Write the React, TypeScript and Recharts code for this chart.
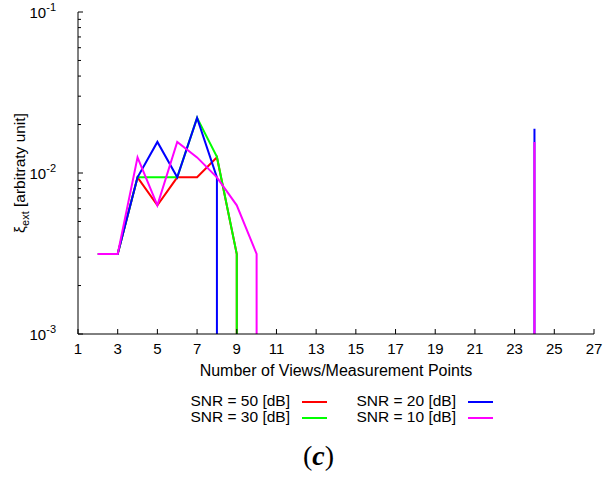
import React from 'react';
import { LineChart, Line, XAxis, YAxis, Legend } from 'recharts';

// ---- data ----
const xTicks = [1, 3, 5, 7, 9, 11, 13, 15, 17, 19, 21, 23, 25, 27];
const yTicks = [
  0.001, 0.002, 0.003, 0.004, 0.005, 0.006, 0.007, 0.008, 0.009,
  0.01, 0.02, 0.03, 0.04, 0.05, 0.06, 0.07, 0.08, 0.09, 0.1,
];

const snr50X = [2, 3, 4, 5, 6, 7, 8, 9, 9];
const snr50Y = [0.00314, 0.00314, 0.0094, 0.0063, 0.0094, 0.0094, 0.0125, 0.00314, 0.001];

const snr30X = [2, 3, 4, 5, 6, 7, 8, 9, 9];
const snr30Y = [0.00314, 0.00314, 0.0094, 0.0094, 0.0094, 0.022, 0.0126, 0.00314, 0.001];

const snr20X = [2, 3, 4, 5, 6, 7, 8, 8, 16, 24, 24, 24];
const snr20Y = [0.00314, 0.00314, 0.0094, 0.0156, 0.0094, 0.022, 0.0094, 0.001, null, 0.001, 0.0188, 0.001];

const snr10X = [2, 3, 4, 5, 6, 7, 8, 9, 10, 10, 17, 24, 24, 24];
const snr10Y = [0.00314, 0.00314, 0.0125, 0.0063, 0.0156, 0.0125, 0.0094, 0.0063, 0.00314, 0.001, null, 0.001, 0.0156, 0.001];

const seriesNames = ['SNR = 50 [dB]', 'SNR = 30 [dB]', 'SNR = 20 [dB]', 'SNR = 10 [dB]'];
const seriesColors = ['#ff0000', '#00ff00', '#0000ff', '#ff00ff'];

const toData = (xs: number[], ys: (number | null)[]) => xs.map((x, i) => ({ x, y: ys[i] }));
const series = [
  toData(snr50X, snr50Y),
  toData(snr30X, snr30Y),
  toData(snr20X, snr20Y),
  toData(snr10X, snr10Y),
];

const FONT = '"Liberation Sans", Arial, Helvetica, sans-serif';

const isMajor = (v: number) => {
  const l = Math.log10(v);
  return Math.abs(l - Math.round(l)) < 1e-6;
};

const BottomTick = (props: any) => {
  const { x, y, payload } = props;
  return (
    <g>
      <line x1={x} x2={x} y1={y} y2={y - 5} stroke="#000" strokeWidth={1} />
      <text x={x} y={y + 20} textAnchor="middle" fontSize={15} fontFamily={FONT} fill="#000">
        {payload.value}
      </text>
    </g>
  );
};

const TopTick = (props: any) => {
  const { x, y } = props;
  return <line x1={x} x2={x} y1={y} y2={y + 5} stroke="#000" strokeWidth={1} />;
};

const LeftTick = (props: any) => {
  const { x, y, payload } = props;
  const v = payload.value;
  const major = isMajor(v);
  return (
    <g>
      <line x1={x} x2={x + (major ? 5 : 3)} y1={y} y2={y} stroke="#000" strokeWidth={1} />
      {major && (
        <text x={x - 22} y={y + 6} textAnchor="end" fontSize={15} fontFamily={FONT} fill="#000">
          10
          <tspan fontSize={11} dy={-7}>{String(Math.round(Math.log10(v)))}</tspan>
        </text>
      )}
    </g>
  );
};

const RightTick = (props: any) => {
  const { x, y, payload } = props;
  const major = isMajor(payload.value);
  return <line x1={x} x2={x - (major ? 5 : 3)} y1={y} y2={y} stroke="#000" strokeWidth={1} />;
};

const YLabel = (props: any) => {
  const vb = props.viewBox || { x: 0, y: 12, width: 78, height: 322 };
  const cx = vb.x + 25;
  const cy = vb.y + vb.height / 2;
  return (
    <text
      x={cx}
      y={cy}
      transform={`rotate(-90, ${cx}, ${cy})`}
      textAnchor="middle"
      fontSize={15.5}
      fontFamily={FONT}
      fill="#000"
    >
      ξ
      <tspan fontSize={11} dy={4}>ext</tspan>
      <tspan dy={-4}> [arbitraty unit]</tspan>
    </text>
  );
};

const LegendContent = () => {
  const rows = [
    [0, 2],
    [1, 3],
  ];
  return (
    <svg width={607} height={50} style={{ display: 'block' }}>
      {rows.map((row, r) =>
        row.map((si, c) => {
          const textEnd = c === 0 ? 290 : 456;
          const yc = 16 + r * 16;
          return (
            <g key={si}>
              <text x={textEnd} y={yc + 5} textAnchor="end" fontSize={15.5} fontFamily={FONT} fill="#000">
                {seriesNames[si]}
              </text>
              <line x1={textEnd + 12} x2={textEnd + 37} y1={yc + 1} y2={yc + 1} stroke={seriesColors[si]} strokeWidth={2} />
            </g>
          );
        })
      )}
    </svg>
  );
};

export default function App() {
  return (
    <div style={{ position: 'absolute', left: 0, top: 0, width: 607, height: 477, background: '#fff' }}>
      <LineChart width={607} height={477} margin={{ top: 12, right: 13, bottom: 0, left: 0 }}>
        <XAxis
          xAxisId="b"
          dataKey="x"
          type="number"
          domain={[1, 27]}
          ticks={xTicks}
          allowDataOverflow
          height={143}
          tickSize={0}
          tickMargin={0}
          tickLine={false}
          tick={<BottomTick />}
          interval={0}
          axisLine={{ stroke: '#000', strokeWidth: 1 }}
          label={{ value: 'Number of Views/Measurement Points', position: 'insideTop', offset: 31, fontSize: 16, fontFamily: FONT, fill: '#000' }}
        />
        <XAxis
          xAxisId="t"
          orientation="top"
          dataKey="x"
          type="number"
          domain={[1, 27]}
          ticks={xTicks}
          allowDataOverflow
          height={0}
          tickSize={0}
          tickMargin={0}
          tickLine={false}
          tick={<TopTick />}
          interval={0}
          axisLine={{ stroke: '#000', strokeWidth: 1 }}
        />
        <YAxis
          yAxisId="l"
          scale="log"
          type="number"
          domain={[0.001, 0.1]}
          ticks={yTicks}
          allowDataOverflow
          width={78}
          tickSize={0}
          tickMargin={0}
          tickLine={false}
          tick={<LeftTick />}
          interval={0}
          axisLine={{ stroke: '#000', strokeWidth: 1 }}
          label={<YLabel />}
        />
        <YAxis
          yAxisId="r"
          orientation="right"
          scale="log"
          type="number"
          domain={[0.001, 0.1]}
          ticks={yTicks}
          allowDataOverflow
          width={0}
          tickSize={0}
          tickMargin={0}
          tickLine={false}
          tick={<RightTick />}
          interval={0}
          axisLine={{ stroke: '#000', strokeWidth: 1 }}
        />
        {series.map((d, i) => (
          <Line
            key={i}
            xAxisId="b"
            yAxisId="l"
            data={d}
            dataKey="y"
            name={seriesNames[i]}
            stroke={seriesColors[i]}
            strokeWidth={2}
            dot={false}
            activeDot={false}
            connectNulls={false}
            isAnimationActive={false}
            type="linear"
          />
        ))}
        <Legend
          layout="horizontal"
          verticalAlign="middle"
          align="center"
          content={<LegendContent />}
          wrapperStyle={{ left: 0, top: 385, width: 607, height: 50 }}
        />
      </LineChart>
      <div
        style={{
          position: 'absolute',
          left: 0,
          width: 637,
          top: 440,
          textAlign: 'center',
          fontFamily: '"Liberation Serif", "Times New Roman", serif',
          fontSize: 28,
          lineHeight: '32px',
          color: '#000',
        }}
      >
        (<span style={{ fontStyle: 'italic', fontWeight: 'bold' }}>c</span>)
      </div>
    </div>
  );
}
